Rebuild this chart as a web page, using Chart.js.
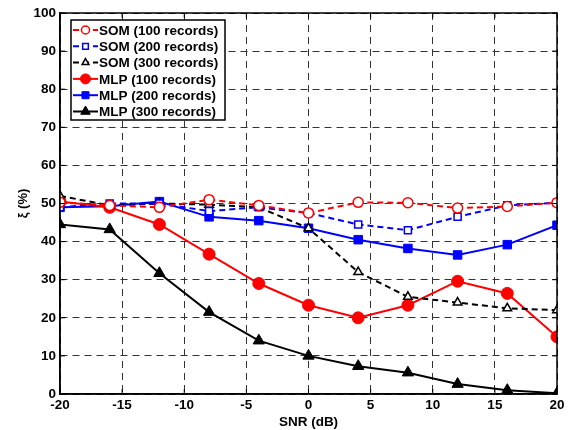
<!DOCTYPE html>
<html lang="en">
<head>
  <meta charset="UTF-8">
  <title>SOM vs MLP</title>
  <script src="https://cdn.jsdelivr.net/npm/chart.js"></script>
  <style>
    html, body { margin: 0; padding: 0; background: #fff; }
    #wrap { width: 569px; height: 430px; }
  </style>
</head>
<body>
  <div id="wrap"><canvas id="chart" width="569" height="430"></canvas></div>

  <script>
    // SNR values (dB)
    const snr = [-20, -16, -12, -8, -4, 0, 4, 8, 12, 16, 20];

    // xi (%) for each method
    const som100 = [50.3, 49.5, 49.0, 51.0, 49.5, 47.5, 50.3, 50.2, 48.8, 49.2, 50.2];
    const som200 = [49.0, 50.0, 50.0, 48.0, 49.0, 47.5, 44.5, 43.0, 46.5, 49.5, 50.2];
    const som300 = [52.0, 49.5, 50.0, 49.7, 49.0, 43.5, 32.0, 25.5, 24.0, 22.5, 22.0];
    const mlp100 = [50.5, 49.0, 44.5, 36.7, 29.0, 23.3, 20.0, 23.3, 29.6, 26.4, 15.0];
    const mlp200 = [49.0, 49.3, 50.5, 46.5, 45.5, 43.5, 40.5, 38.2, 36.5, 39.2, 44.3];
    const mlp300 = [44.5, 43.2, 31.7, 21.5, 14.0, 10.0, 7.3, 5.6, 2.6, 1.0, 0.2];

    const xTicks = [-20, -15, -10, -5, 0, 5, 10, 15, 20];
    const yTicks = [0, 10, 20, 30, 40, 50, 60, 70, 80, 90, 100];

    const RED = '#ff0000', BLUE = '#0000ff', BLACK = '#000000';
    const FONT = 'Liberation Sans, Arial, sans-serif';

    function pts(ys) { return snr.map((x, i) => ({ x: x, y: ys[i] })); }

    function series(label, ys, color, style, dashed, open) {
      return {
        label: label,
        data: pts(ys),
        borderColor: color,
        backgroundColor: color,
        borderWidth: 2,
        borderDash: dashed ? [6, 4] : [],
        pointStyle: style,
        pointRadius: open ? 5 : (style === 'triangle' ? 6.5 : 6),
        pointBorderWidth: open ? 1.5 : 1,
        pointBackgroundColor: open ? '#ffffff' : color,
        pointBorderColor: color,
        tension: 0,
        fill: false
      };
    }

    // frame, inner ticks and legend drawn on top
    const framePlugin = {
      id: 'frame',
      afterDraw(chart) {
        const { ctx, chartArea: a } = chart;
        const xs = chart.scales.x, ys = chart.scales.y;
        ctx.save();
        ctx.strokeStyle = '#000';
        ctx.lineWidth = 1.5;
        ctx.setLineDash([]);
        ctx.strokeRect(a.left, a.top, a.right - a.left, a.bottom - a.top);

        // small inward tick marks (MATLAB style)
        ctx.lineWidth = 1;
        ctx.beginPath();
        xTicks.forEach(v => {
          const px = xs.getPixelForValue(v);
          ctx.moveTo(px, a.bottom); ctx.lineTo(px, a.bottom - 5);
          ctx.moveTo(px, a.top); ctx.lineTo(px, a.top + 5);
        });
        yTicks.forEach(v => {
          const py = ys.getPixelForValue(v);
          ctx.moveTo(a.left, py); ctx.lineTo(a.left + 5, py);
          ctx.moveTo(a.right, py); ctx.lineTo(a.right - 5, py);
        });
        ctx.stroke();

        // legend box
        const bx = 71, by = 20, bw = 154, bh = 100;
        ctx.fillStyle = '#fff';
        ctx.fillRect(bx, by, bw, bh);
        ctx.lineWidth = 1.5;
        ctx.strokeRect(bx, by, bw, bh);
        ctx.font = 'bold 13.5px ' + FONT;
        ctx.textBaseline = 'middle';
        chart.data.datasets.forEach((ds, i) => {
          const y = by + 10 + i * 16.3;
          ctx.strokeStyle = ds.borderColor;
          ctx.lineWidth = 2;
          ctx.setLineDash(ds.borderDash);
          ctx.beginPath();
          ctx.moveTo(bx + 2, y);
          ctx.lineTo(bx + 27, y);
          ctx.stroke();
          ctx.setLineDash([]);
          ctx.fillStyle = ds.pointBackgroundColor;
          ctx.strokeStyle = ds.pointBorderColor;
          ctx.lineWidth = ds.pointBorderWidth;
          Chart.helpers.drawPoint(ctx, {
            pointStyle: ds.pointStyle,
            radius: ds.pointRadius - 1,
            borderWidth: ds.pointBorderWidth
          }, bx + 14.5, y);
          ctx.fillStyle = '#000';
          ctx.fillText(ds.label, bx + 28, y + 1);
        });
        ctx.restore();
      }
    };

    const ctx = document.getElementById('chart').getContext('2d');
    new Chart(ctx, {
      type: 'line',
      data: {
        datasets: [
          series('SOM (100 records)', som100, RED, 'circle', true, true),
          series('SOM (200 records)', som200, BLUE, 'rect', true, true),
          series('SOM (300 records)', som300, BLACK, 'triangle', true, true),
          series('MLP (100 records)', mlp100, RED, 'circle', false, false),
          series('MLP (200 records)', mlp200, BLUE, 'rect', false, false),
          series('MLP (300 records)', mlp300, BLACK, 'triangle', false, false)
        ]
      },
      options: {
        responsive: false,
        animation: false,
        layout: { padding: { left: 16, right: 12, top: 13, bottom: 0 } },
        plugins: { legend: { display: false }, tooltip: { enabled: false } },
        scales: {
          x: {
            type: 'linear',
            min: -20, max: 20,
            afterBuildTicks(s) { s.ticks = xTicks.map(v => ({ value: v })); },
            afterFit(s) { s.height = 36; },
            grid: { color: '#333', lineWidth: 1, drawTicks: false, tickLength: 0 },
            border: { display: true, color: '#000', width: 1.5, dash: [7, 5] },
            ticks: {
              color: '#000', padding: 3,
              font: { family: FONT, weight: 'bold', size: 13.5 },
              maxRotation: 0
            },
            title: {
              display: true, text: 'SNR (dB)', color: '#000', padding: { top: 0, bottom: 0 },
              font: { family: FONT, weight: 'bold', size: 13.5 }
            }
          },
          y: {
            min: 0, max: 100,
            afterBuildTicks(s) { s.ticks = yTicks.map(v => ({ value: v })); },
            afterFit(s) { s.width = 44; },
            grid: { color: '#333', lineWidth: 1, drawTicks: false, tickLength: 0 },
            border: { display: true, color: '#000', width: 1.5, dash: [7, 5] },
            ticks: {
              color: '#000', padding: 4,
              font: { family: FONT, weight: 'bold', size: 13.5 }
            },
            title: {
              display: true, text: 'ξ (%)', color: '#000', padding: { top: 0, bottom: 0 },
              font: { family: FONT, weight: 'bold', size: 13 }
            }
          }
        }
      },
      plugins: [framePlugin]
    });
  </script>
</body>
</html>
